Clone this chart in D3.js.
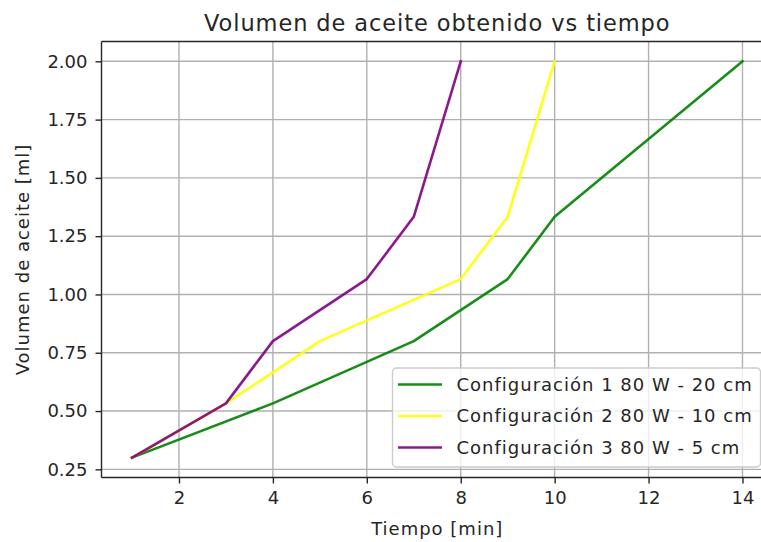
<!DOCTYPE html>
<html>
<head>
<meta charset="utf-8">
<script src="https://cdn.jsdelivr.net/npm/d3@7"></script>
<style>
  html, body { margin: 0; padding: 0; background: #fff; }
  svg { display: block; }
  text { font-family: "DejaVu Sans", sans-serif; fill: #262626; }
</style>
</head>
<body>
<svg id="chart" width="761" height="542"></svg>
<script>
// Aceite obtenido en el tiempo para cada configuración
const tiempoConf1 = [1, 4, 7, 9, 10, 14];
const volumenConf1 = [0.3, 0.533, 0.8, 1.066, 1.333, 2.0];
const tiempoConf2 = [1, 3, 4, 5, 8, 9, 10];
const volumenConf2 = [0.3, 0.533, 0.666, 0.8, 1.066, 1.333, 2.0];
const tiempoConf3 = [1, 3, 4, 6, 7, 8];
const volumenConf3 = [0.3, 0.533, 0.8, 1.066, 1.333, 2.0];

const seriesNames = ["Configuración 1 80 W - 20 cm", "Configuración 2 80 W - 10 cm", "Configuración 3 80 W - 5 cm"];
const seriesColors = ["#008000", "#ffff00", "#800080"];
const xTicks = [2, 4, 6, 8, 10, 12, 14];
const yTicks = [0.25, 0.5, 0.75, 1.0, 1.25, 1.5, 1.75, 2.0];

const series = [
  { name: seriesNames[0], color: seriesColors[0], pts: tiempoConf1.map((t, i) => [t, volumenConf1[i]]) },
  { name: seriesNames[1], color: seriesColors[1], pts: tiempoConf2.map((t, i) => [t, volumenConf2[i]]) },
  { name: seriesNames[2], color: seriesColors[2], pts: tiempoConf3.map((t, i) => [t, volumenConf3[i]]) }
];

const svg = d3.select("#chart");
const plot = { left: 101.5, right: 773, top: 41.5, bottom: 477.5 };

// 5% margins around the data range
const allX = series.flatMap(s => s.pts.map(p => p[0]));
const allY = series.flatMap(s => s.pts.map(p => p[1]));
const [x0, x1] = d3.extent(allX), [y0, y1] = d3.extent(allY);
const mx = (x1 - x0) * 0.05, my = (y1 - y0) * 0.05;

const x = d3.scaleLinear().domain([x0 - mx, x1 + mx]).range([plot.left, plot.right]);
const y = d3.scaleLinear().domain([y0 - my, y1 + my]).range([plot.bottom, plot.top]);

const fs = 18;
const ls = "1px";

// grid
const grid = svg.append("g");
grid.selectAll(".gx").data(xTicks).join("line")
  .attr("x1", d => x(d)).attr("x2", d => x(d))
  .attr("y1", plot.top).attr("y2", plot.bottom)
  .attr("stroke", "#b0b0b0").attr("stroke-width", 1.4);
grid.selectAll(".gy").data(yTicks).join("line")
  .attr("y1", d => y(d)).attr("y2", d => y(d))
  .attr("x1", plot.left).attr("x2", plot.right)
  .attr("stroke", "#b0b0b0").attr("stroke-width", 1.4);

// lines
const line = d3.line().x(d => x(d[0])).y(d => y(d[1]));
svg.append("g").selectAll("path").data(series).join("path")
  .attr("d", d => line(d.pts))
  .attr("fill", "none")
  .attr("stroke", d => d.color)
  .attr("stroke-opacity", 0.9)
  .attr("stroke-width", 2.6)
  .attr("stroke-linejoin", "round")
  .attr("stroke-linecap", "square");

// axes
const xAxis = d3.axisBottom(x).tickValues(xTicks).tickFormat(d3.format("d")).tickSize(6).tickPadding(8);
const yAxis = d3.axisLeft(y).tickValues(yTicks).tickFormat(d3.format(".2f")).tickSize(6).tickPadding(8);

const gx = svg.append("g").attr("transform", `translate(0,${plot.bottom})`).call(xAxis);
const gy = svg.append("g").attr("transform", `translate(${plot.left},0)`).call(yAxis);
[gx, gy].forEach(g => {
  g.select(".domain").remove();
  g.selectAll(".tick line").attr("stroke", "#262626").attr("stroke-width", 1.4);
  g.selectAll(".tick text").attr("font-size", fs).attr("font-family", "DejaVu Sans").attr("fill", "#262626");
});

// spines
svg.append("line").attr("x1", plot.left).attr("x2", plot.right).attr("y1", plot.bottom).attr("y2", plot.bottom)
  .attr("stroke", "#262626").attr("stroke-width", 1.4);
svg.append("line").attr("x1", plot.left).attr("x2", plot.right).attr("y1", plot.top).attr("y2", plot.top)
  .attr("stroke", "#262626").attr("stroke-width", 1.4);
svg.append("line").attr("x1", plot.left).attr("x2", plot.left).attr("y1", plot.top).attr("y2", plot.bottom)
  .attr("stroke", "#262626").attr("stroke-width", 1.4);

// title and axis labels
svg.append("text").attr("x", (plot.left + plot.right) / 2).attr("y", 31)
  .attr("text-anchor", "middle").attr("font-size", 22.5).style("letter-spacing", "0.9px")
  .text("Volumen de aceite obtenido vs tiempo");
svg.append("text").attr("x", (plot.left + plot.right) / 2).attr("y", 535)
  .attr("text-anchor", "middle").attr("font-size", fs).style("letter-spacing", ls)
  .text("Tiempo [min]");
svg.append("text")
  .attr("transform", `translate(29,${(plot.top + plot.bottom) / 2}) rotate(-90)`)
  .attr("text-anchor", "middle").attr("font-size", fs).style("letter-spacing", ls)
  .text("Volumen de aceite [ml]");

// legend
const leg = svg.append("g");
leg.append("rect").attr("x", 392.5).attr("y", 368).attr("width", 368).attr("height", 99)
  .attr("rx", 4).attr("fill", "#fff").attr("fill-opacity", 0.8)
  .attr("stroke", "#cccccc").attr("stroke-width", 1.4);
const rowY = [384.5, 416, 447.5];
const rows = leg.selectAll(".row").data(series).join("g")
  .attr("transform", (d, i) => `translate(0,${rowY[i]})`);
rows.append("line").attr("x1", 398).attr("x2", 442)
  .attr("stroke", d => d.color).attr("stroke-opacity", 0.9).attr("stroke-width", 2.6);
rows.append("text").attr("x", 456.5).attr("dy", "0.35em").attr("font-size", fs)
  .style("letter-spacing", ls)
  .text(d => d.name);
</script>
</body>
</html>
